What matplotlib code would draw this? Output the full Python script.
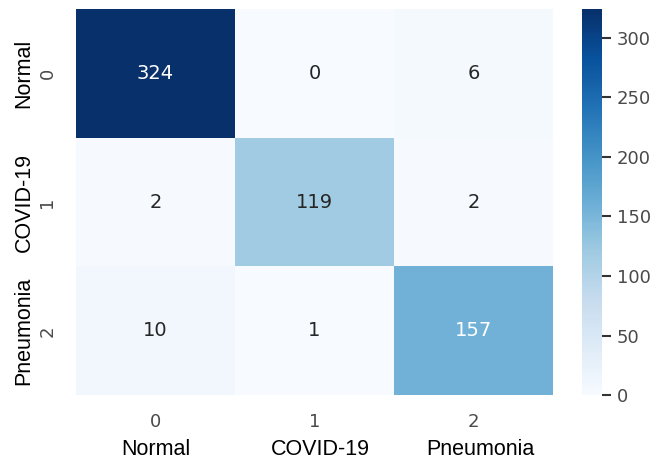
import matplotlib
matplotlib.use("Agg")
import matplotlib.pyplot as plt
import seaborn as sns
import numpy as np

classes = ["Normal", "COVID-19", "Pneumonia"]
tick_labels = ["0", "1", "2"]
cm = [[324, 0, 6],
      [2, 119, 2],
      [10, 1, 157]]
cbar_ticks = [0, 50, 100, 150, 200, 250, 300]

plt.rcParams['font.family'] = ['DejaVu Sans']
fig = plt.figure(figsize=(6.72, 4.61), dpi=100)
ax = fig.add_axes([0.113, 0.143, 0.710, 0.837])
cax = fig.add_axes([0.866, 0.143, 0.030, 0.837])

sns.heatmap(np.array(cm), annot=True, fmt="d", cmap="Blues", ax=ax, cbar_ax=cax,
            vmin=0, vmax=324, annot_kws={"size": 14},
            xticklabels=tick_labels, yticklabels=tick_labels)

ax.tick_params(axis='both', length=0, labelsize=13, labelcolor='#4a4a4a')
ax.tick_params(axis='x', pad=13)
ax.tick_params(axis='y', pad=14)
plt.setp(ax.get_yticklabels(), rotation=90, va='center')
plt.setp(ax.get_xticklabels(), rotation=0)

cax.set_yticks(cbar_ticks)
cax.tick_params(length=6.5, width=1.5, labelsize=13, labelcolor='#4a4a4a', color='#333333', pad=4)
for s in cax.spines.values():
    s.set_visible(False)

# small horizontal nudges of the lower class names (in cell units)
x_nudge = [0.0, 0.04, 0.04]
xt = ax.get_xaxis_transform()
for i, name in enumerate(classes):
    ax.text(i + 0.5 + x_nudge[i], -0.141, name, transform=xt, ha='center', va='center',
            fontsize=15.5, family='Liberation Sans', color='black')
yt = ax.get_yaxis_transform()
for i, name in enumerate(classes):
    ax.text(-0.109, i + 0.5, name, transform=yt, ha='center', va='center', rotation=90,
            fontsize=15.5, family='Liberation Sans', color='black')

fig.savefig("out.png", dpi=100)
